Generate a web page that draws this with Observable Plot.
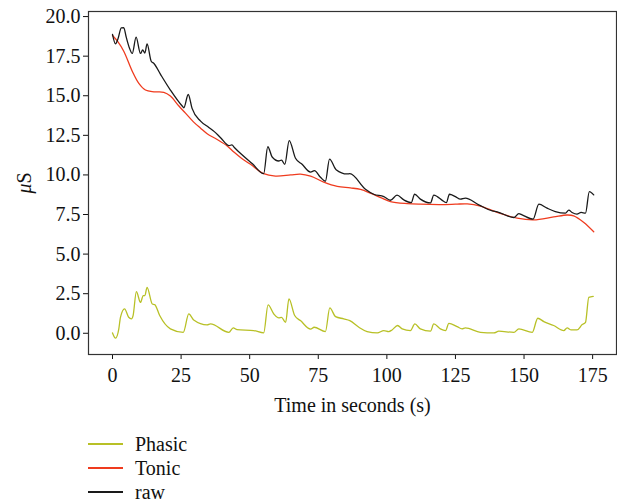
<!DOCTYPE html>
<html>
<head>
<meta charset="utf-8">
<script src="https://cdn.jsdelivr.net/npm/d3@7"></script>
<script src="https://cdn.jsdelivr.net/npm/@observablehq/plot@0.6"></script>
<style>
  html, body { margin: 0; padding: 0; background: #fff; }
  body { width: 617px; height: 504px; overflow: hidden; font-family: "Liberation Serif", serif; }
  #legend { padding-top: 12px; padding-left: 88px; }
  .row { display: flex; align-items: center; height: 24px; font-size: 20px; line-height: 22px; color: #111; }
  .sw { width: 35px; height: 2px; margin-right: 12px; }
</style>
</head>
<body>
<div id="chart"></div>
<div id="legend"></div>
<script>
const xTicks = [0, 25, 50, 75, 100, 125, 150, 175];
const yTicks = [0, 2.5, 5, 7.5, 10, 12.5, 15, 17.5, 20];
const seriesNames = ["Phasic", "Tonic", "raw"];
const seriesColors = ["#b8c026", "#ef3b1e", "#1a1a1a"];

const rawT = [0,1.1,2.0,3.2,4.1,5.0,6.2,7.2,8.6,10.2,11.0,11.8,12.6,14.1,15.1,17.5,21.1,25.4,26.0,27.6,29.0,32.1,35.1,37,39.4,42.5,43.5,44.5,47,51,55.1,56.6,58.2,60.6,61.6,62.8,64.4,66.7,69.1,72.2,73.6,75.8,77.6,79.1,81.5,85.5,86.5,92.2,95.2,98.9,101.3,103.7,106.2,108.9,110.1,112.2,115.9,117.1,120.8,121.7,122.8,125,126.8,128.6,133.5,138.4,140.2,146.3,148.1,149.3,153.3,155.4,158.4,161.4,165.1,166.3,167.5,169.3,170.8,172.4,173.8,175.4];
const rawV = [18.87,18.27,18.6,19.28,19.3,18.7,18.0,17.67,18.7,17.67,17.9,17.7,18.27,17.18,17.04,16.35,15.36,14.35,14.24,15.08,14.2,13.4,13.0,12.75,12.35,11.85,11.9,11.72,11.3,10.7,10.08,11.78,11.13,10.88,10.94,10.67,12.17,11.05,10.67,10.18,10.27,9.85,9.6,11.0,10.33,10.06,10.08,9.1,8.78,8.63,8.4,8.72,8.42,8.25,8.78,8.47,8.23,8.73,8.32,8.25,8.78,8.63,8.47,8.53,8.11,7.73,7.67,7.31,7.56,7.48,7.21,8.15,7.9,7.69,7.59,7.78,7.63,7.52,7.63,7.59,8.95,8.74];

const tonicT = [0,2,4.1,7.2,9.6,12,15.1,18.7,21.1,24.2,26.6,29.5,32.1,34.5,38,41.8,44.2,47,50.3,55.1,59.4,64.9,68.5,72.2,77,81.9,86.7,90.4,94,98,101.3,107.4,112.2,119.5,125,129.3,134.1,140.2,147.5,153.5,160.8,165.7,168.1,171.8,175.4];
const tonicV = [18.8,18.4,17.81,16.55,15.78,15.36,15.25,15.22,14.98,14.35,13.9,13.35,12.95,12.6,12.25,11.83,11.45,11.05,10.67,10.08,9.93,10.0,10.05,9.92,9.55,9.28,9.18,9.08,8.85,8.55,8.32,8.19,8.15,8.13,8.15,8.17,8.03,7.63,7.27,7.16,7.35,7.47,7.42,7.0,6.41];

const phasicT = [0,1.1,2.3,2.9,4.4,5.9,6.9,7.5,8.7,10.2,11.2,11.8,12.6,14.5,15.4,17.2,21.1,25.8,27.8,29.6,34.5,35.7,42.4,44.0,45.4,51.5,55.1,56.7,58.8,60.6,61.6,63.1,64.3,66.4,68.5,72.2,73.5,77.6,79.2,81.3,84.3,86.5,89.8,92.8,96.5,98.9,100.7,101.9,103.9,105.6,108.6,110.2,112.2,115.9,117.1,119.5,121.4,122.6,125.6,127.4,128.6,134.1,139,140.8,146.3,148.1,153,155,157.2,160.8,164.5,165.7,167.2,169.3,171.2,172.4,173.6,175.2];
const phasicV = [0.02,-0.31,0.28,1.01,1.54,1.01,0.91,1.12,2.63,1.95,2.38,2.38,2.9,1.85,1.81,1.12,0.28,0.06,1.22,0.84,0.53,0.59,0.06,0.34,0.23,0.17,0.03,1.79,1.22,0.97,1.01,0.69,2.17,1.12,0.8,0.26,0.38,0.11,1.6,1.05,0.91,0.8,0.38,0.11,0.02,0.17,0.11,0.21,0.49,0.28,0.17,0.59,0.28,0.13,0.59,0.28,0.17,0.63,0.42,0.28,0.34,0.06,0.02,0.13,0.06,0.28,0.06,0.95,0.74,0.49,0.17,0.34,0.21,0.21,0.55,0.69,2.27,2.33];

const toRows = (ts, vs) => ts.map((t, i) => ({t, v: vs[i]}));
const raw = toRows(rawT, rawV);
const tonic = toRows(tonicT, tonicV);
const phasic = toRows(phasicT, phasicV);

const chart = Plot.plot({
  width: 617,
  height: 420,
  marginLeft: 88,
  marginTop: 11,
  marginRight: 1,
  marginBottom: 66,
  style: { fontFamily: "Liberation Serif, serif", fontSize: "20px", color: "#111", background: "#fff" },
  x: { domain: [-8.75, 183.7], ticks: xTicks, tickSize: 5, tickPadding: 8, label: "Time in seconds (s)", labelAnchor: "center", labelArrow: "none", labelOffset: 57 },
  y: { domain: [-1.34, 20.32], ticks: yTicks, tickFormat: d3.format(".1f"), tickSize: 5, tickPadding: 3, label: "μS", labelAnchor: "center", labelArrow: "none", labelOffset: 72 },
  marks: [
    Plot.frame({ stroke: "#333", strokeWidth: 1.2 }),
    Plot.line(phasic, { x: "t", y: "v", stroke: seriesColors[0], strokeWidth: 1.3, curve: "monotone-x" }),
    Plot.line(tonic, { x: "t", y: "v", stroke: seriesColors[1], strokeWidth: 1.3, curve: "catmull-rom" }),
    Plot.line(raw, { x: "t", y: "v", stroke: seriesColors[2], strokeWidth: 1.3, curve: "monotone-x" })
  ]
});
document.getElementById("chart").appendChild(chart);

// italic mu in the y-axis label
const yLab = chart.querySelector('[aria-label="y-axis label"] text');
if (yLab) {
  yLab.textContent = "";
  const ns = "http://www.w3.org/2000/svg";
  const mu = document.createElementNS(ns, "tspan");
  mu.setAttribute("font-style", "italic");
  mu.textContent = "μ";
  const s = document.createElementNS(ns, "tspan");
  s.textContent = "S";
  yLab.appendChild(mu);
  yLab.appendChild(s);
}

const legend = document.getElementById("legend");
seriesNames.forEach((name, i) => {
  const row = document.createElement("div");
  row.className = "row";
  const sw = document.createElement("span");
  sw.className = "sw";
  sw.style.background = seriesColors[i];
  const lab = document.createElement("span");
  lab.textContent = name;
  row.appendChild(sw);
  row.appendChild(lab);
  legend.appendChild(row);
});
</script>
</body>
</html>
